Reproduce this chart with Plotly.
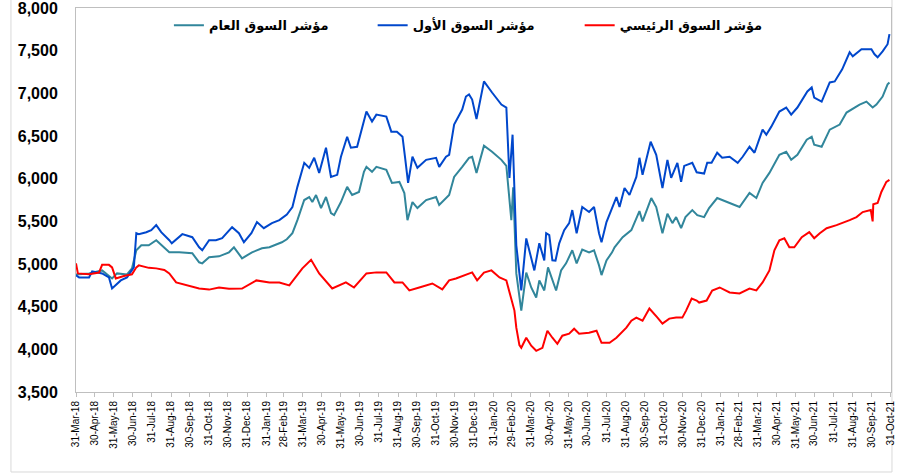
import pandas as pd
import plotly.graph_objects as go

# ---------------- data ----------------
general_dates = [
    "2018-03-31", "2018-04-21", "2018-05-12", "2018-05-28", "2018-06-05", "2018-06-21", "2018-06-29",
    "2018-07-06", "2018-07-14", "2018-07-26", "2018-08-07", "2018-08-20", "2018-08-28", "2018-09-13",
    "2018-10-04", "2018-10-15", "2018-10-20", "2018-10-31", "2018-11-16", "2018-12-02", "2018-12-10",
    "2018-12-23", "2019-01-08", "2019-01-24", "2019-02-05", "2019-02-25", "2019-03-05", "2019-03-14",
    "2019-03-22", "2019-04-02", "2019-04-10", "2019-04-15", "2019-04-21", "2019-04-29", "2019-05-07",
    "2019-05-15", "2019-05-20", "2019-05-31", "2019-06-10", "2019-06-18", "2019-06-29", "2019-07-07",
    "2019-07-11", "2019-07-20", "2019-07-27", "2019-08-12", "2019-08-21", "2019-09-02", "2019-09-10",
    "2019-09-15", "2019-09-23", "2019-10-01", "2019-10-15", "2019-10-31", "2019-11-05", "2019-11-21",
    "2019-11-29", "2019-12-12", "2019-12-23", "2019-12-28", "2020-01-04", "2020-01-16", "2020-01-29",
    "2020-02-13", "2020-02-21", "2020-02-29", "2020-03-03", "2020-03-08", "2020-03-16", "2020-03-24",
    "2020-04-01", "2020-04-09", "2020-04-14", "2020-04-22", "2020-04-28", "2020-05-11", "2020-05-19",
    "2020-05-27", "2020-06-06", "2020-06-13", "2020-06-22", "2020-07-03", "2020-07-11", "2020-07-19",
    "2020-07-23", "2020-07-31", "2020-08-09", "2020-08-13", "2020-08-26", "2020-09-09", "2020-09-17",
    "2020-09-22", "2020-09-27", "2020-10-11", "2020-10-19", "2020-10-24", "2020-10-29", "2020-11-06",
    "2020-11-14", "2020-11-20", "2020-11-28", "2020-12-05", "2020-12-16", "2020-12-24", "2021-01-04",
    "2021-01-12", "2021-01-25", "2021-02-14", "2021-03-02", "2021-03-18", "2021-03-29", "2021-04-08",
    "2021-04-19", "2021-05-05", "2021-05-16", "2021-05-24", "2021-06-03", "2021-06-18", "2021-06-26",
    "2021-06-30", "2021-07-12", "2021-07-25", "2021-08-10", "2021-08-21", "2021-08-29", "2021-09-11",
    "2021-09-22", "2021-10-02", "2021-10-08", "2021-10-18", "2021-10-26", "2021-10-29",
]
general_values = [
    4878, 4890, 4925, 4831, 4890, 4878, 4949,
    5161, 5220, 5220, 5279, 5196, 5137, 5137,
    5126, 5020, 5008, 5079, 5090, 5137, 5196,
    5067, 5137, 5184, 5196, 5255, 5290, 5361,
    5514, 5750, 5785, 5726, 5809, 5656, 5785,
    5597, 5573, 5726, 5904, 5809, 5844, 6080,
    6139, 6080, 6139, 6104, 5950, 5962, 5832,
    5514, 5726, 5656, 5750, 5785, 5691, 5809,
    6021, 6139, 6245, 6257, 6068, 6386, 6316,
    6221, 6150, 5514, 5900, 4890, 4454, 4900,
    4725, 4607, 4808, 4690, 4961, 4690, 4925,
    5008, 5161, 5008, 5170, 5137, 5161, 4984,
    4870, 5043, 5137, 5196, 5314, 5397, 5538,
    5620, 5500, 5773, 5668, 5514, 5361, 5590,
    5479, 5550, 5420, 5550, 5632, 5573, 5550,
    5656, 5773, 5715, 5668, 5832, 5773, 5950,
    6068, 6280, 6316, 6221, 6280, 6457, 6492,
    6398, 6374, 6575, 6634, 6775, 6810, 6869,
    6904, 6834, 6869, 6963, 7105, 7128,
]

first_dates = [
    "2018-03-31", "2018-04-05", "2018-04-21", "2018-04-26", "2018-05-12", "2018-05-23", "2018-05-28",
    "2018-06-03", "2018-06-11", "2018-06-21", "2018-06-27", "2018-07-02", "2018-07-06", "2018-07-10",
    "2018-07-22", "2018-07-30", "2018-08-07", "2018-08-15", "2018-08-28", "2018-09-01", "2018-09-18",
    "2018-10-04", "2018-10-15", "2018-10-20", "2018-10-31", "2018-11-11", "2018-11-21", "2018-12-07",
    "2018-12-18", "2018-12-26", "2019-01-07", "2019-01-16", "2019-01-27", "2019-02-09", "2019-02-21",
    "2019-03-05", "2019-03-14", "2019-03-22", "2019-04-02", "2019-04-10", "2019-04-18", "2019-04-26",
    "2019-05-07", "2019-05-15", "2019-05-25", "2019-05-31", "2019-06-10", "2019-06-16", "2019-06-26",
    "2019-07-04", "2019-07-11", "2019-07-20", "2019-07-27", "2019-08-12", "2019-08-20", "2019-08-29",
    "2019-09-07", "2019-09-11", "2019-09-16", "2019-09-23", "2019-10-01", "2019-10-15", "2019-10-31",
    "2019-11-05", "2019-11-16", "2019-11-21", "2019-11-29", "2019-12-12", "2019-12-18", "2019-12-23",
    "2019-12-28", "2020-01-04", "2020-01-16", "2020-01-29", "2020-02-13", "2020-02-21", "2020-02-26",
    "2020-03-02", "2020-03-08", "2020-03-13", "2020-03-16", "2020-03-24", "2020-04-01", "2020-04-06",
    "2020-04-14", "2020-04-22", "2020-04-25", "2020-04-30", "2020-05-05", "2020-05-10", "2020-05-16",
    "2020-05-24", "2020-06-01", "2020-06-06", "2020-06-13", "2020-06-22", "2020-07-03", "2020-07-11",
    "2020-07-19", "2020-07-23", "2020-07-31", "2020-08-09", "2020-08-16", "2020-08-21", "2020-08-29",
    "2020-09-06", "2020-09-17", "2020-09-22", "2020-09-27", "2020-10-10", "2020-10-19", "2020-10-29",
    "2020-11-06", "2020-11-12", "2020-11-22", "2020-11-28", "2020-12-03", "2020-12-16", "2020-12-23",
    "2021-01-04", "2021-01-09", "2021-01-16", "2021-01-25", "2021-02-02", "2021-02-14", "2021-02-27",
    "2021-03-07", "2021-03-18", "2021-03-26", "2021-04-08", "2021-04-14", "2021-04-22", "2021-05-05",
    "2021-05-16", "2021-05-24", "2021-06-03", "2021-06-19", "2021-06-26", "2021-06-30", "2021-07-12",
    "2021-07-25", "2021-08-02", "2021-08-14", "2021-08-26", "2021-08-31", "2021-09-14", "2021-09-30",
    "2021-10-05", "2021-10-10", "2021-10-18", "2021-10-26", "2021-10-29",
]
first_values = [
    4867, 4843, 4843, 4914, 4890, 4843, 4713,
    4749, 4808, 4843, 4902, 4961, 5361, 5350,
    5373, 5397, 5456, 5373, 5279, 5243, 5350,
    5314, 5196, 5161, 5279, 5279, 5302, 5432,
    5361, 5255, 5361, 5491, 5420, 5479, 5514,
    5580, 5668, 5904, 6186, 6127, 6245, 6068,
    6363, 6021, 6045, 6257, 6492, 6363, 6374,
    6610, 6787, 6669, 6751, 6728, 6551, 6551,
    6492, 6257, 5950, 6257, 6127, 6221, 6245,
    6139, 6257, 6280, 6634, 6810, 6963, 6987,
    6928, 6700, 7140, 7010, 6869, 6834, 6009,
    6516, 5220, 4890, 4690, 5300, 5080, 4925,
    5243, 5043, 5361, 5338, 5043, 5040, 5243,
    5397, 5479, 5632, 5361, 5668, 5609, 5668,
    5361, 5255, 5491, 5668, 5785, 5668, 5891,
    5809, 6021, 6245, 6045, 6433, 6280, 5891,
    6221, 6009, 6186, 5962, 6150, 6186, 6075,
    6060, 6186, 6186, 6304, 6245, 6257, 6186,
    6257, 6374, 6304, 6575, 6516, 6610, 6787,
    6834, 6751, 6834, 7022, 7069, 6951, 6904,
    7128, 7140, 7281, 7482, 7434, 7517, 7517,
    7458, 7423, 7493, 7576, 7694,
]

main_dates = [
    "2018-03-31", "2018-04-03", "2018-04-21", "2018-05-07", "2018-05-12", "2018-05-23", "2018-05-28",
    "2018-06-03", "2018-06-16", "2018-06-29", "2018-07-06", "2018-07-10", "2018-07-26", "2018-08-07",
    "2018-08-20", "2018-08-28", "2018-09-08", "2018-09-29", "2018-10-15", "2018-10-31", "2018-11-16",
    "2018-12-02", "2018-12-23", "2019-01-15", "2019-02-05", "2019-02-21", "2019-03-09", "2019-03-30",
    "2019-04-13", "2019-04-26", "2019-05-17", "2019-06-08", "2019-06-21", "2019-07-11", "2019-07-27",
    "2019-08-12", "2019-08-25", "2019-09-07", "2019-09-18", "2019-10-04", "2019-10-25", "2019-11-10",
    "2019-11-21", "2019-12-02", "2019-12-07", "2019-12-28", "2020-01-05", "2020-01-16", "2020-01-28",
    "2020-02-10", "2020-02-21", "2020-02-29", "2020-03-05", "2020-03-08", "2020-03-13", "2020-03-16",
    "2020-03-24", "2020-04-01", "2020-04-09", "2020-04-19", "2020-04-27", "2020-05-05", "2020-05-13",
    "2020-05-21", "2020-06-01", "2020-06-09", "2020-06-17", "2020-07-03", "2020-07-15", "2020-07-23",
    "2020-08-05", "2020-08-16", "2020-09-01", "2020-09-09", "2020-09-17", "2020-09-27", "2020-10-08",
    "2020-10-21", "2020-10-29", "2020-11-09", "2020-11-20", "2020-11-30", "2020-12-06", "2020-12-15",
    "2020-12-23", "2020-12-27", "2021-01-08", "2021-01-17", "2021-01-29", "2021-02-14", "2021-03-02",
    "2021-03-18", "2021-03-29", "2021-04-08", "2021-04-19", "2021-04-27", "2021-05-05", "2021-05-13",
    "2021-05-21", "2021-05-29", "2021-06-10", "2021-06-22", "2021-06-30", "2021-07-09", "2021-07-20",
    "2021-08-05", "2021-08-14", "2021-08-26", "2021-09-06", "2021-09-16", "2021-09-29", "2021-10-02",
    "2021-10-03", "2021-10-10", "2021-10-16", "2021-10-24", "2021-10-29",
]
main_values = [
    5008, 4890, 4880, 4900, 4990, 4990, 4960,
    4831, 4860, 4880, 4961, 4984, 4955, 4949,
    4930, 4890, 4784, 4740, 4713, 4700, 4725,
    4710, 4713, 4808, 4784, 4784, 4749, 4949,
    5050, 4890, 4713, 4784, 4725, 4890, 4902,
    4902, 4784, 4784, 4690, 4725, 4772, 4702,
    4808, 4831, 4843, 4902, 4808, 4900, 4925,
    4843, 4808, 4607, 4454, 4254, 4050, 4018,
    4136, 4042, 3983, 4018, 4218, 4136, 4065,
    4160, 4183, 4242, 4183, 4195, 4218, 4077,
    4077, 4136, 4254, 4336, 4372, 4336, 4478,
    4372, 4301, 4360, 4372, 4372, 4454, 4596,
    4572, 4548, 4572, 4690, 4725, 4666, 4655,
    4713, 4690, 4784, 4925, 5161, 5279, 5302,
    5196, 5196, 5314, 5373, 5302, 5361, 5420,
    5456, 5479, 5514, 5550, 5609, 5632, 5500,
    5700, 5715, 5844, 5962, 5986,
]

series_names = ["مؤشر السوق العام", "مؤشر السوق الأول", "مؤشر السوق الرئيسي"]
series_colors = ["#31869B", "#0047CC", "#FF0000"]

tick_labels = [
    "31-Mar-18", "30-Apr-18", "31-May-18", "30-Jun-18", "31-Jul-18", "31-Aug-18", "30-Sep-18",
    "31-Oct-18", "30-Nov-18", "31-Dec-18", "31-Jan-19", "28-Feb-19", "31-Mar-19", "30-Apr-19",
    "31-May-19", "30-Jun-19", "31-Jul-19", "31-Aug-19", "30-Sep-19", "31-Oct-19", "30-Nov-19",
    "31-Dec-19", "31-Jan-20", "29-Feb-20", "31-Mar-20", "30-Apr-20", "31-May-20", "30-Jun-20",
    "31-Jul-20", "31-Aug-20", "30-Sep-20", "31-Oct-20", "30-Nov-20", "31-Dec-20", "31-Jan-21",
    "28-Feb-21", "31-Mar-21", "30-Apr-21", "31-May-21", "30-Jun-21", "31-Jul-21", "31-Aug-21",
    "30-Sep-21", "31-Oct-21",
]
y_ticks = [3500, 4000, 4500, 5000, 5500, 6000, 6500, 7000, 7500, 8000]

# ---------------- figure ----------------
tick_dates = pd.to_datetime(tick_labels, format="%d-%b-%y")

fig = go.Figure()
series = [
    (general_dates, general_values, "legend"),
    (first_dates, first_values, "legend2"),
    (main_dates, main_values, "legend3"),
]
for (d, v, lg), name, col in zip(series, series_names, series_colors):
    fig.add_trace(go.Scatter(
        x=pd.to_datetime(d), y=v, mode="lines", name=name,
        line=dict(color=col, width=2), legend=lg,
    ))

leg_common = dict(
    orientation="h", yanchor="middle", y=0.955, xanchor="left",
    bgcolor="rgba(0,0,0,0)", borderwidth=0,
    font=dict(family="DejaVu Sans, Arial", size=13, color="#000000", weight="bold"),
    itemwidth=30,
)
fig.update_layout(
    width=901, height=476,
    margin=dict(l=76, r=10, t=8, b=84, autoexpand=False),
    paper_bgcolor="white", plot_bgcolor="white",
    showlegend=True,
    legend=dict(x=0.114, **leg_common),
    legend2=dict(x=0.364, **leg_common),
    legend3=dict(x=0.618, **leg_common),
    xaxis=dict(
        type="date", automargin=False,
        range=[tick_dates[0], tick_dates[-1] + pd.Timedelta(hours=12)],
        tickvals=tick_dates, ticktext=tick_labels, tickangle=-90,
        tickfont=dict(family="Liberation Sans, Arial", size=10, color="#000000"),
        ticks="outside", ticklen=4, tickcolor="#bfbfbf",
        showline=True, linecolor="#bfbfbf", linewidth=1, mirror=True,
        showgrid=False, zeroline=False,
    ),
    yaxis=dict(
        automargin=False, ticklabeloverflow="allow",
        range=[3500, 8000.5], tickvals=y_ticks, tickformat=",",
        tickfont=dict(family="Liberation Sans, Arial", size=16, color="#000000", weight="bold"),
        ticks="", ticklabelstandoff=14,
        showline=True, linecolor="#bfbfbf", linewidth=1, mirror=True,
        showgrid=False, zeroline=False,
    ),
    shapes=[dict(
        type="rect", xref="paper", yref="paper",
        x0=-0.0798, x1=1.0012, y0=-0.2083, y1=1.03,
        line=dict(color="#d9d9d9", width=1), fillcolor="rgba(0,0,0,0)", layer="below",
    )],
)

fig.write_html(
    "out.html",
    config={"displayModeBar": False},
    post_script="document.body.style.margin='0';document.body.style.padding='0';",
)
